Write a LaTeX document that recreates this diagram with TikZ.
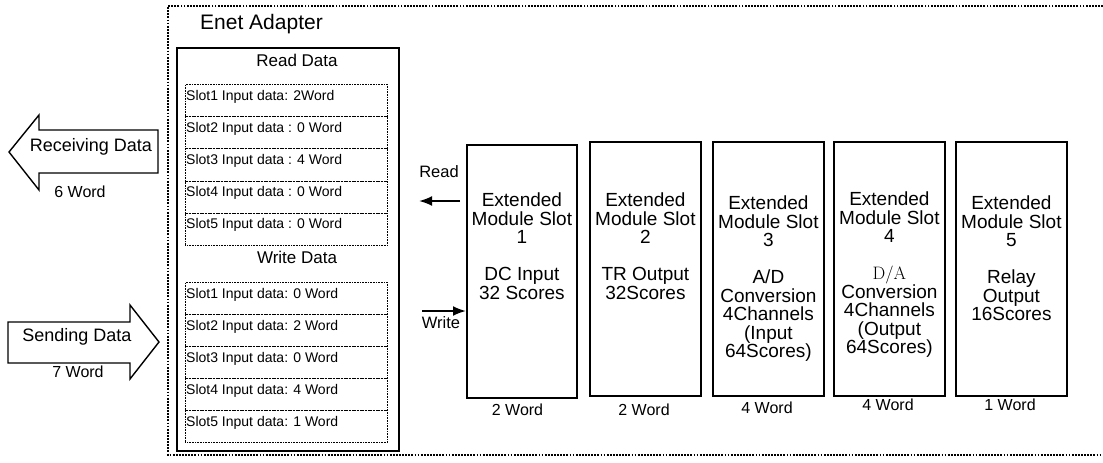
\documentclass[tikz,border=0pt]{standalone}
\usepackage{fontspec}
\setsansfont{Liberation Sans}
\usetikzlibrary{arrows.meta}
\begin{document}
\begin{tikzpicture}[x=1pt,y=-1pt, font=\sffamily,
  outerframe/.style={line width=1.8pt, dash pattern=on 1.8pt off 1.3pt},
  adapterbox/.style={draw, line width=1.8pt, rectangle, inner sep=0pt, anchor=north west, minimum width=222pt, minimum height=403pt},
  modbox/.style={draw, line width=1.8pt, rectangle, inner sep=0pt, anchor=north west, minimum width=111pt, minimum height=254pt},
  modtxt/.style={font=\sffamily\fontsize{19}{18.5}\selectfont, align=center, inner sep=0pt, anchor=north},
  rowbox/.style={draw, line width=0.8pt, dash pattern=on 0.8pt off 0.8pt, rectangle, inner sep=0pt, anchor=north west, minimum width=202pt, minimum height=32.2pt},
  rowtxt/.style={font=\sffamily\fontsize{14}{16}\selectfont, inner sep=0pt, anchor=base west},
  headtxt/.style={font=\sffamily\fontsize{17}{19}\selectfont, inner sep=0pt},
  wordtxt/.style={font=\sffamily\fontsize{16}{18}\selectfont, inner sep=0pt},
  bigarrow/.style={draw, line width=1.4pt, line join=miter, fill=white},
  thinarrow/.style={line width=2pt, -{Latex[length=13pt,width=10pt]}}
]
\useasboundingbox (0,0) rectangle (1103,463);

% outer dotted frame
\draw[outerframe] (1103,6) -- (168,6) -- (168,455) -- (1103,455);
\node[font=\sffamily\fontsize{21}{24}\selectfont, inner sep=0pt, anchor=base west] (enet) at (200,29.5) {Enet Adapter};

% adapter box
\node[adapterbox] (adp) at (176,47) {};
\node[headtxt] (rd) at (297,60) {Read Data};
\node[headtxt] (wd) at (297,257) {Write Data};

% read rows
\node[rowbox] (r1) at (185,84) {};
\node[rowbox] (r2) at (185,116.2) {};
\node[rowbox] (r3) at (185,148.4) {};
\node[rowbox] (r4) at (185,180.6) {};
\node[rowbox] (r5) at (185,212.8) {};
\node[rowtxt] (rt1) at ([xshift=1pt,yshift=-16pt]r1.north west) {Slot1 Input data: 2Word};
\node[rowtxt] (rt2) at ([xshift=1pt,yshift=-16pt]r2.north west) {Slot2 Input data : 0 Word};
\node[rowtxt] (rt3) at ([xshift=1pt,yshift=-16pt]r3.north west) {Slot3 Input data : 4 Word};
\node[rowtxt] (rt4) at ([xshift=1pt,yshift=-16pt]r4.north west) {Slot4 Input data : 0 Word};
\node[rowtxt] (rt5) at ([xshift=1pt,yshift=-16pt]r5.north west) {Slot5 Input data : 0 Word};

% write rows
\node[rowbox] (w1) at (185,282) {};
\node[rowbox] (w2) at (185,314) {};
\node[rowbox] (w3) at (185,346) {};
\node[rowbox] (w4) at (185,378) {};
\node[rowbox] (w5) at (185,410) {};
\node[rowtxt] (wt1) at ([xshift=1pt,yshift=-16pt]w1.north west) {Slot1 Input data: 0 Word};
\node[rowtxt] (wt2) at ([xshift=1pt,yshift=-16pt]w2.north west) {Slot2 Input data: 2 Word};
\node[rowtxt] (wt3) at ([xshift=1pt,yshift=-16pt]w3.north west) {Slot3 Input data: 0 Word};
\node[rowtxt] (wt4) at ([xshift=1pt,yshift=-16pt]w4.north west) {Slot4 Input data: 4 Word};
\node[rowtxt] (wt5) at ([xshift=1pt,yshift=-16pt]w5.north west) {Slot5 Input data: 1 Word};

% big arrows
\draw[bigarrow] (158,130) -- (39,130) -- (39,115) -- (9,152) -- (39,190) -- (39,173) -- (158,173) -- cycle;
\node[font=\sffamily\fontsize{18}{20}\selectfont, inner sep=0pt] (recv) at (91,147) {Receiving Data};
\node[wordtxt] (recvw) at (80,192) {6 Word};

\draw[bigarrow] (8,322) -- (130,322) -- (130,305) -- (159,342) -- (130,379) -- (130,363) -- (8,363) -- cycle;
\node[font=\sffamily\fontsize{18}{20}\selectfont, inner sep=0pt] (send) at (77,337) {Sending Data};
\node[wordtxt] (sendw) at (78,372) {7 Word};

% module boxes
\node[modbox, minimum width=110pt, minimum height=253pt] (s1) at (466,144) {};
\node[modbox] (s2) at (589,141) {};
\node[modbox] (s3) at (712,141) {};
\node[modbox] (s4) at (833,141) {};
\node[modbox] (s5) at (955,141) {};

\node[modtxt] (m1) at ([yshift=-49pt]s1.north) {Extended\\Module Slot\\1\\[18.5pt]DC Input\\32 Scores};
\node[modtxt] (m2) at ([yshift=-52pt]s2.north) {Extended\\Module Slot\\2\\[18.5pt]TR Output\\32Scores};
\node[modtxt] (m3) at ([yshift=-55pt]s3.north) {Extended\\Module Slot\\3\\[18.5pt]A/D\\Conversion\\4Channels\\(Input\\64Scores)};
\node[modtxt] (m4) at ([yshift=-51pt]s4.north) {Extended\\Module Slot\\4\\[18.5pt]{\rmfamily\fontsize{18}{18.5}\selectfont D/A}\\Conversion\\4Channels\\(Output\\64Scores)};
\node[modtxt] (m5) at ([yshift=-55pt]s5.north) {Extended\\Module Slot\\5\\[18.5pt]Relay\\Output\\16Scores};

\node[wordtxt] (b1) at (517.5,410) {2 Word};
\node[wordtxt] (b2) at (644,410) {2 Word};
\node[wordtxt] (b3) at (767,408) {4 Word};
\node[wordtxt] (b4) at (888,405) {4 Word};
\node[wordtxt] (b5) at (1010,405) {1 Word};

% read / write arrows
\node[headtxt, font=\sffamily\fontsize{16.5}{19}\selectfont] (rdl) at (439,172) {Read};
\node[headtxt, font=\sffamily\fontsize{16.5}{19}\selectfont] (wrl) at (441,323) {Write};
\coordinate (rdend) at (419,201);
\coordinate (wrstart) at (422,311);
\draw[thinarrow] ([xshift=-6pt]s1.west |- rdend) -- (rdend);
\draw[thinarrow] (wrstart) -- (s1.west |- wrstart);
\end{tikzpicture}
\end{document}
